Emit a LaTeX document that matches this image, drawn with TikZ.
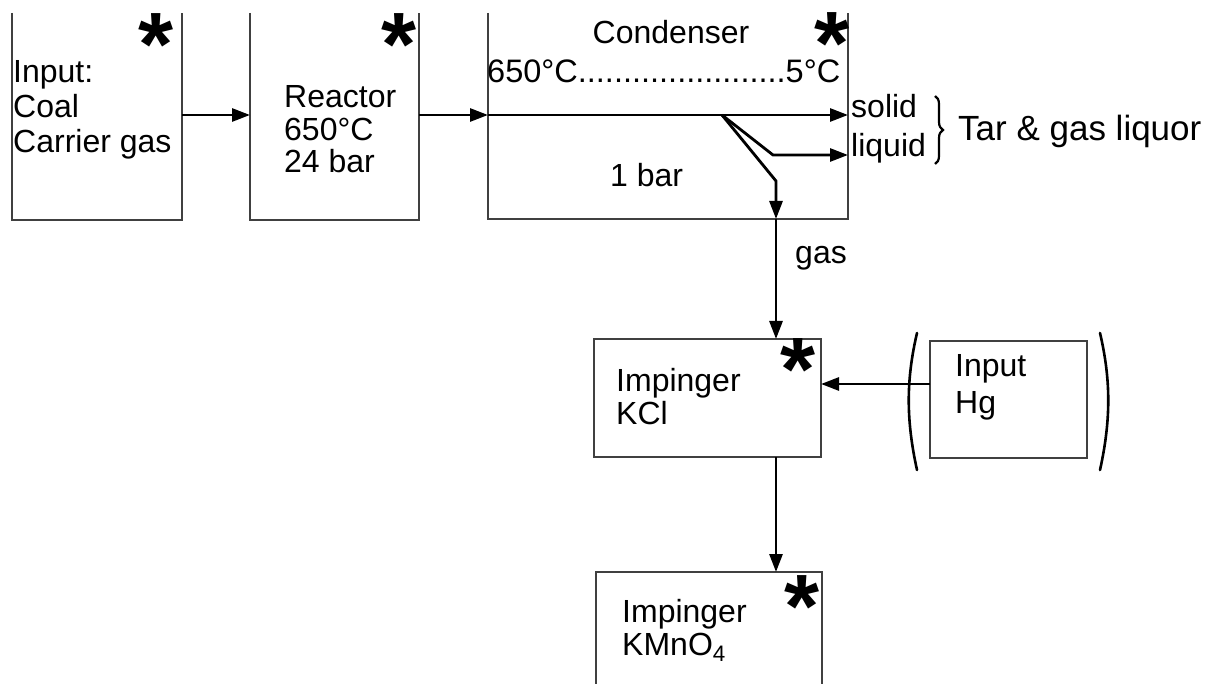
\documentclass[tikz,border=0pt]{standalone}
\usepackage{fontspec}
\setmainfont{Liberation Sans}
\usetikzlibrary{arrows.meta,decorations.pathreplacing}
\begin{document}
\begin{tikzpicture}[x=1pt,y=-1pt,
  box/.style={draw=none,inner sep=0pt,outer sep=0pt},
  frame/.style={line width=1.2pt,draw=black!75},
  flow/.style={line width=2.8pt,-{Triangle[length=18pt,width=13pt]}},
  lbl/.style={font=\fontsize{32}{36}\selectfont,inner sep=0pt,anchor=base west},
  star/.style={font=\fontsize{90}{90}\selectfont\bfseries,inner sep=0pt,anchor=base west},
  paren/.style={line width=2.6pt,line cap=round}]
\useasboundingbox (0,0) rectangle (1212,684);

% boxes
\node[box,minimum width=170pt,minimum height=207pt] (inp) at (97,116.5) {};
\node[box,minimum width=169pt,minimum height=207pt] (reac) at (334.5,116.5) {};
\node[box,minimum width=360pt,minimum height=206pt] (cond) at (668,116) {};
\node[box,minimum width=227pt,minimum height=118pt] (kcl) at (707.5,398) {};
\node[box,minimum width=157pt,minimum height=117pt] (hg) at (1008.5,399.5) {};
\node[box,minimum width=226pt,minimum height=112pt] (kmno) at (709,628) {};

\draw[frame] (inp.north west) -- (inp.south west) -- (inp.south east) -- (inp.north east);
\draw[frame] (reac.north west) -- (reac.south west) -- (reac.south east) -- (reac.north east);
\draw[frame] (cond.north west) -- (cond.south west) -- (cond.south east) -- (cond.north east);
\draw[frame] (kcl.north west) rectangle (kcl.south east);
\draw[frame] (hg.north west) rectangle (hg.south east);
\draw[frame] (kmno.south west) -- (kmno.north west) -- (kmno.north east) -- (kmno.south east);

% texts
\node[lbl] (t1) at (13,83) {Input:};
\node[lbl] (t2) at (13,118) {Coal};
\node[lbl] (t3) at (13,153) {Carrier gas};
\node[lbl] (r1) at (284,108) {Reactor};
\node[lbl] (r2) at (284,141) {650°C};
\node[lbl] (r3) at (284,173) {24 bar};
\node[lbl,anchor=base] (c1) at (671,44) {Condenser};
\node[lbl,font=\fontsize{32.5}{35}\selectfont] (c2) at (487,83) {650°C.......................5°C};
\node[lbl] (c3) at (610,187) {1 bar};
\node[lbl] (so) at (851,118) {solid};
\node[lbl] (li) at (851,157) {liquid};
\node[lbl,font=\fontsize{35}{40}\selectfont] (tar) at (958,141) {Tar \& gas liquor};
\node[lbl] (ga) at (795,264) {gas};
\node[lbl] (k1) at (616,391) {Impinger};
\node[lbl] (k2) at (616,424) {KCl};
\node[lbl] (h1) at (955,376) {Input};
\node[lbl] (h2) at (955,413) {Hg};
\node[lbl] (m1) at (622,622) {Impinger};
\node[lbl] (m2) at (622,655) {KMnO\textsubscript{4}};

% asterisks
\node[star] (s1) at (155-17,31+45) {*};
\node[star] (s2) at (398-17,31+45) {*};
\node[star] (s3) at (831-17,30+45) {*};
\node[star] (s4) at (797-17,355+45) {*};
\node[star] (s5) at (801-17,592+45) {*};

% flows
\coordinate (y1) at (0,115);
\coordinate (split) at (722,115);
\coordinate (lbend) at (773,155);
\coordinate (gbend) at (776,181);
\coordinate (hgy) at (0,384);
\draw[flow] (inp.east |- y1) -- (reac.west |- y1);
\draw[flow] (reac.east |- y1) -- (cond.west |- y1);
\draw[flow] (cond.west |- y1) -- (cond.east |- y1);
\draw[flow] (split) -- (lbend) -- (cond.east |- lbend);
\draw[flow] (split) -- (gbend) -- (gbend |- cond.south);
\draw[flow] (gbend |- cond.south) -- (gbend |- kcl.north);
\draw[flow] (hg.west |- hgy) -- (kcl.east |- hgy);
\draw[flow] (kcl.south -| gbend) -- (kmno.north -| gbend);

% brace and parentheses
\draw[decorate,decoration={brace,amplitude=8pt},line width=2.2pt] (935,96) -- (935,164);
\draw[paren] (917,333) .. controls (906,380) and (906,420) .. (917,470);
\draw[paren] (1100,333) .. controls (1111,380) and (1111,420) .. (1100,470);
\end{tikzpicture}
\end{document}
